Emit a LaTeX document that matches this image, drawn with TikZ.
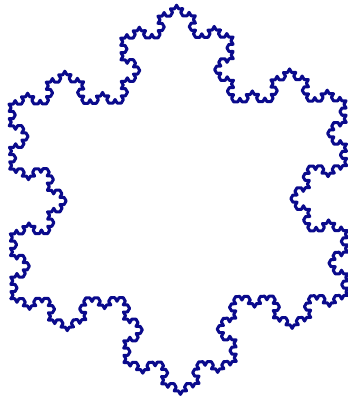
\documentclass[tikz,border=0pt]{standalone}
\usetikzlibrary{lindenmayersystems}
\definecolor{snowblue}{RGB}{10,10,140}
\pgfdeclarelindenmayersystem{KochFlake}{
  \rule{F -> F-F++F-F}
}
\begin{document}
\begin{tikzpicture}[x=1pt,y=1pt]
  \fill[white] (0,0) rectangle (348,399);
  \useasboundingbox (0,0) rectangle (348,399);
  \begin{scope}[shift={(178.5,199.5)}, rotate=0.6]
    \begin{scope}[shift={(-168.87,-97.5)}]
      \draw[snowblue, line width=3pt, line join=round, line cap=round,
        lindenmayer system={KochFlake, axiom=F++F++F, order=4, step=4.1698pt, angle=60}]
        lindenmayer system -- cycle;
    \end{scope}
  \end{scope}
\end{tikzpicture}
\end{document}
